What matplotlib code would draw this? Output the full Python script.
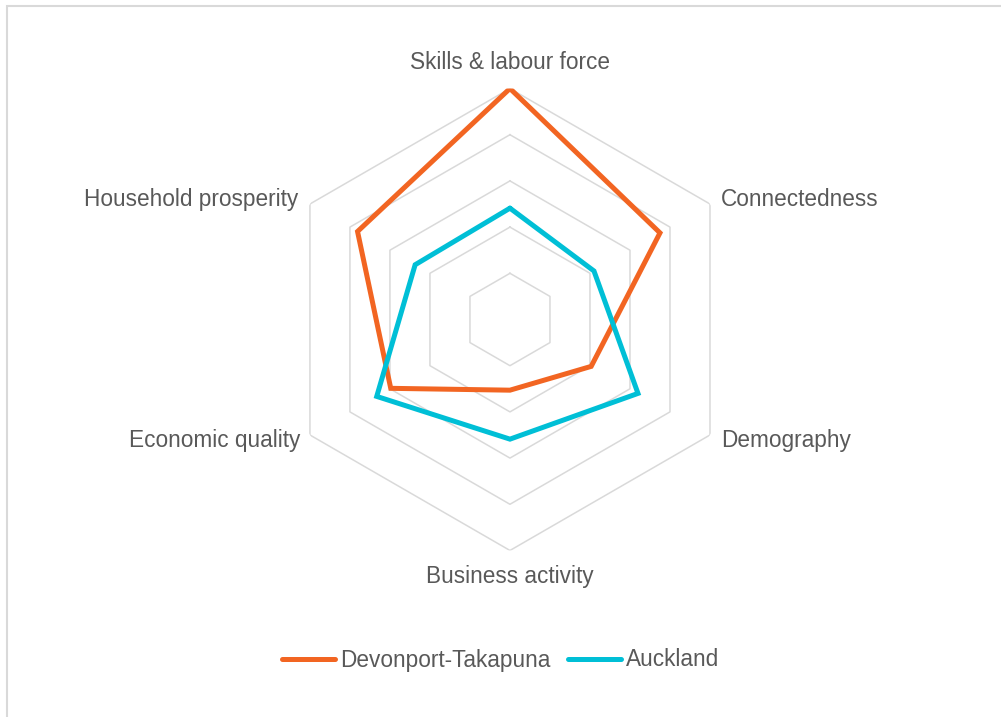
import numpy as np
import matplotlib.pyplot as plt
from matplotlib.patches import Rectangle

plt.rcParams['font.family'] = ['Liberation Sans', 'DejaVu Sans']

categories = ["Skills & labour force", "Connectedness", "Demography",
              "Business activity", "Economic quality", "Household prosperity"]
devonport = [5.0, 3.75, 2.03, 1.53, 2.98, 3.81]
auckland = [2.41, 2.1, 3.2, 2.59, 3.33, 2.37]
series_names = ["Devonport-Takapuna", "Auckland"]
ring_levels = [1, 2, 3, 4, 5]

orange = "#F26522"
cyan = "#00BFD6"
grid_col = "#D9D9D9"
text_col = "#595959"

fig = plt.figure(figsize=(10.01, 7.17), dpi=100)
ax = fig.add_axes([0.2787, 0.2322, 0.4615, 0.6444], projection='polar')
ax.set_theta_offset(np.pi / 2)
ax.set_theta_direction(-1)

angles = np.linspace(0, 2 * np.pi, len(categories), endpoint=False)
closed = np.append(angles, angles[0])

# hexagon grid
for r in ring_levels:
    ax.plot(closed, [r] * 7, color=grid_col, lw=1.1, zorder=1)

d = devonport + devonport[:1]
a = auckland + auckland[:1]
ax.plot(closed, d, color=orange, lw=3.6, zorder=3, label=series_names[0],
        solid_joinstyle='miter', solid_capstyle='round')
ax.plot(closed, a, color=cyan, lw=3.6, zorder=3, label=series_names[1],
        solid_joinstyle='miter', solid_capstyle='round')

ax.set_ylim(0, 5)
ax.set_xticks([])
ax.set_yticks([])
ax.grid(False)
ax.spines['polar'].set_visible(False)
ax.patch.set_alpha(0)

# category labels
fs = 16.3
offsets = [(0, 26, 'center', 'center'), (11, 5, 'left', 'center'),
           (11, -6, 'left', 'center'), (0, -26, 'center', 'center'),
           (-10, -6, 'right', 'center'), (-12, 5, 'right', 'center')]
for ang, lab, (dx, dy, ha, va) in zip(angles, categories, offsets):
    ax.annotate(lab, xy=(ang, 5), xytext=(dx, dy), textcoords='offset pixels',
                ha=ha, va=va, fontsize=fs, color=text_col)

leg = fig.legend(loc='center', bbox_to_anchor=(0.5, 1 - 660 / 717), ncol=2,
                 frameon=False, fontsize=fs, handlelength=2.35,
                 handletextpad=0.2, columnspacing=0.8)
for t in leg.get_texts():
    t.set_color(text_col)

# chart border
fig.patches.append(Rectangle((7 / 1001, -0.1), 1.2, 1 - 6 / 717 + 0.1,
                             transform=fig.transFigure, fill=False,
                             edgecolor=grid_col, lw=1.5))

fig.savefig("out.png", dpi=100)
